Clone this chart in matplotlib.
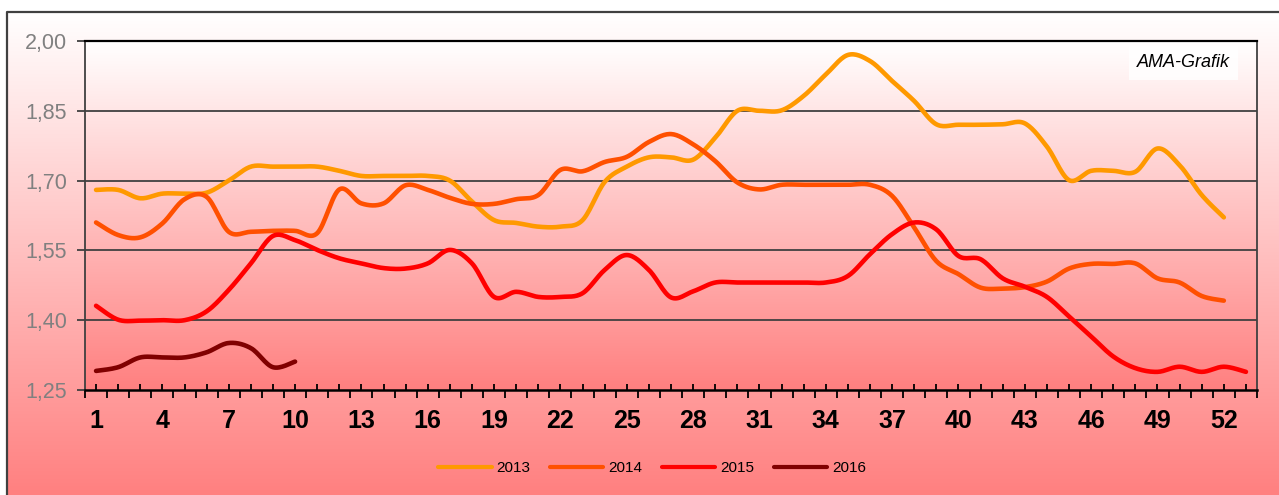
import numpy as np
import matplotlib
matplotlib.use("Agg")
import matplotlib.pyplot as plt
from matplotlib.colors import LinearSegmentedColormap
from matplotlib.ticker import FixedLocator, FuncFormatter

plt.rcParams['font.family'] = ['Liberation Sans', 'DejaVu Sans']

# ---------------- data ----------------
weeks = list(range(1, 54))
series_names = ["2013", "2014", "2015", "2016"]
y2013 = [1.68, 1.68, 1.662, 1.672, 1.672, 1.674, 1.70, 1.73, 1.73, 1.73, 1.73, 1.721, 1.71, 1.71,
         1.71, 1.71, 1.70, 1.655, 1.615, 1.609, 1.601, 1.601, 1.615, 1.697, 1.73, 1.75, 1.75, 1.745,
         1.792, 1.85, 1.85, 1.851, 1.882, 1.928, 1.97, 1.957, 1.914, 1.871, 1.821, 1.82, 1.82,
         1.821, 1.823, 1.773, 1.701, 1.721, 1.721, 1.719, 1.769, 1.733, 1.669, 1.621]
y2014 = [1.61, 1.583, 1.578, 1.608, 1.66, 1.665, 1.59, 1.59, 1.592, 1.592, 1.587, 1.681, 1.651, 1.651,
         1.69, 1.68, 1.663, 1.65, 1.65, 1.66, 1.669, 1.723, 1.72, 1.74, 1.751, 1.783, 1.80, 1.778,
         1.742, 1.696, 1.681, 1.691, 1.691, 1.691, 1.691, 1.691, 1.667, 1.599, 1.527, 1.499, 1.47,
         1.468, 1.471, 1.483, 1.511, 1.521, 1.521, 1.522, 1.49, 1.481, 1.452, 1.442]
y2015 = [1.431, 1.401, 1.399, 1.40, 1.40, 1.419, 1.465, 1.522, 1.581, 1.572, 1.551, 1.533, 1.522, 1.512,
         1.511, 1.522, 1.551, 1.522, 1.45, 1.461, 1.45, 1.45, 1.458, 1.508, 1.54, 1.508, 1.449, 1.462,
         1.481, 1.481, 1.481, 1.481, 1.481, 1.481, 1.495, 1.542, 1.585, 1.61, 1.595, 1.538, 1.531,
         1.49, 1.472, 1.45, 1.408, 1.365, 1.322, 1.297, 1.289, 1.30, 1.289, 1.30, 1.289]
y2016 = [1.291, 1.299, 1.32, 1.32, 1.32, 1.331, 1.351, 1.34, 1.299, 1.311]
series_values = [y2013, y2014, y2015, y2016]
series_colors = ["#FF9900", "#FF5000", "#FF0000", "#800000"]
y_ticks = [1.25, 1.40, 1.55, 1.70, 1.85, 2.00]
x_label_weeks = list(range(1, 53, 3))
watermark = "AMA-Grafik"


def smooth(xs, ys, n=16):
    """Catmull-Rom smoothing (like Excel's smoothed line)."""
    p = np.column_stack([xs, ys]).astype(float)
    if len(p) < 3:
        return p[:, 0], p[:, 1]
    pad = np.vstack([p[0], p, p[-1]])
    out = []
    t = np.linspace(0, 1, n, endpoint=False)[:, None]
    for i in range(1, len(pad) - 2):
        p0, p1, p2, p3 = pad[i - 1], pad[i], pad[i + 1], pad[i + 2]
        seg = 0.5 * (2 * p1 + (-p0 + p2) * t + (2 * p0 - 5 * p1 + 4 * p2 - p3) * t ** 2
                     + (-p0 + 3 * p1 - 3 * p2 + p3) * t ** 3)
        out.append(seg)
    out.append(p[-1][None, :])
    out = np.vstack(out)
    return out[:, 0], out[:, 1]


W, H = 1279, 495
fig = plt.figure(figsize=(W / 100, H / 100), dpi=100)
fig.patch.set_facecolor("white")

cmap = LinearSegmentedColormap.from_list("wp", ["#FFFFFF", "#FF8080"])
grad = np.linspace(0, 1, 256)[:, None]

# chart-area background with border
bg = fig.add_axes([0, 0, 1, 1], zorder=-10)
bg.set_xlim(0, W)
bg.set_ylim(H, 0)
bg.axis("off")
bg.imshow(grad, extent=[7, W, H, 12], cmap=cmap, aspect="auto", interpolation="bicubic")
bg.plot([7, 7, W], [H, 12, 12], color="#404040", lw=1.6, solid_capstyle="butt")

# plot area
L, R, T, B = 85, 1257, 41, 390
ax = fig.add_axes([L / W, 1 - B / H, (R - L) / W, (B - T) / H])
ax.set_xlim(0.5, 53.5)
ax.set_ylim(1.25, 2.00)
ax.imshow(grad, extent=[0.5, 53.5, 1.25, 2.00], cmap=cmap, aspect="auto",
          interpolation="bicubic", zorder=0, origin="upper")

for v in y_ticks[1:-1]:
    ax.axhline(v, color="#404040", lw=1.3, zorder=1)

for name, vals, col in zip(series_names, series_values, series_colors):
    xs = weeks[:len(vals)]
    sx, sy = smooth(xs, vals)
    ax.plot(sx, sy, color=col, lw=3.3, solid_capstyle="round", label=name, zorder=3)

for s in ["left", "right"]:
    ax.spines[s].set_color("#404040")
    ax.spines[s].set_linewidth(1.3)
ax.spines["top"].set_color("#000000")
ax.spines["top"].set_linewidth(1.6)
ax.spines["bottom"].set_color("#000000")
ax.spines["bottom"].set_linewidth(1.8)

ax.yaxis.set_major_locator(FixedLocator(y_ticks))
ax.yaxis.set_major_formatter(FuncFormatter(lambda v, p: f"{v:.2f}".replace(".", ",")))
ax.tick_params(axis="y", direction="out", length=6, width=1.3, color="#404040",
               labelsize=15.5, labelcolor="#808080", pad=7)

# x: boundaries (outward), centers (inward, labelled every 3rd)
ax.xaxis.set_major_locator(FixedLocator([w + 0.5 for w in range(0, 54)]))
ax.xaxis.set_major_formatter(FuncFormatter(lambda v, p: ""))
ax.xaxis.set_minor_locator(FixedLocator(weeks))
ax.xaxis.set_minor_formatter(FuncFormatter(
    lambda v, p: str(int(round(v))) if int(round(v)) in x_label_weeks else ""))
ax.tick_params(axis="x", which="major", direction="out", length=6, width=1.3, color="#000000")
ax.tick_params(axis="x", which="minor", direction="in", length=4, width=1.3, color="#000000",
               labelsize=18, pad=14)
for lab in ax.xaxis.get_minorticklabels():
    lab.set_fontweight("bold")

ax.text(0.977, 0.937, watermark, transform=ax.transAxes, ha="right", va="center",
        fontsize=13, style="italic", color="#000000",
        bbox=dict(boxstyle="square,pad=0.45", facecolor="white", alpha=0.85, edgecolor="none"))

leg = fig.legend(loc="center", bbox_to_anchor=(652 / W, 1 - 468 / H), ncol=4, frameon=False,
                 fontsize=11, handlelength=3.5, handletextpad=0.3, columnspacing=1.3)
for h in leg.get_lines():
    h.set_linewidth(3)

fig.savefig("out.png", dpi=100)
